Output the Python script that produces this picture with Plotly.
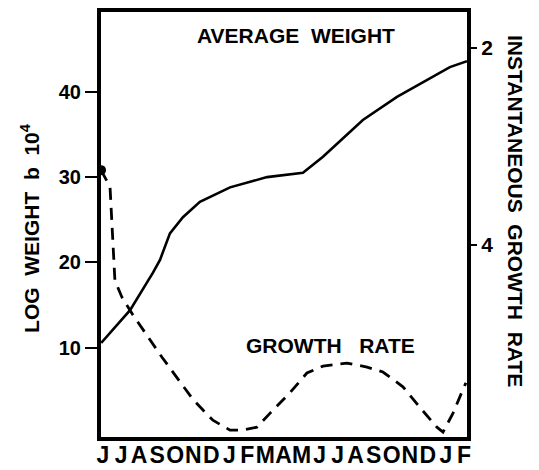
import plotly.graph_objects as go

# ---- data ----
month_labels = ["J", "J", "A", "S", "O", "N", "D", "J", "F", "M", "A",
                "M", "J", "J", "A", "S", "O", "N", "D", "J", "F"]
month_pos = list(range(len(month_labels)))

weight_month = [-0.1, 1.5, 2.77, 3.16, 3.71, 4.43, 5.37, 7.04, 9.09, 11.08,
                12.19, 14.4, 16.29, 18.12, 19.22, 20.17]
weight_value = [10.55, 14.4, 18.8, 20.3, 23.4, 25.3, 27.1, 28.8, 30.0, 30.5,
                32.4, 36.7, 39.4, 41.6, 42.9, 43.6]

growth_month = [-0.11, 0.39, 0.66, 1.05, 1.66, 2.33, 3.27, 4.27, 4.99, 6.09,
                7.04, 7.76, 8.53, 9.25, 10.36, 11.3, 12.19, 13.52, 14.63,
                15.51, 16.62, 17.56, 18.5, 18.84, 19.39, 19.78, 19.94, 20.11]
growth_value = [-3.24, -3.41, -4.36, -4.53, -4.71, -4.89, -5.14, -5.39, -5.57,
                -5.78, -5.88, -5.88, -5.85, -5.71, -5.50, -5.30, -5.23, -5.20,
                -5.24, -5.29, -5.44, -5.65, -5.85, -5.90, -5.71, -5.54, -5.47,
                -5.40]

left_ticks = [10, 20, 30, 40]
right_ticks = [-2, -4]
right_ticktext = ["2", "4"]

FONT = "Liberation Sans, Arial, Helvetica, sans-serif"

fig = go.Figure()
fig.add_trace(go.Scatter(x=weight_month, y=weight_value, mode="lines",
                         line=dict(color="black", width=2.6),
                         showlegend=False, hoverinfo="skip"))
fig.add_trace(go.Scatter(x=growth_month, y=growth_value, mode="lines",
                         line=dict(color="black", width=2.8, dash="12px,8px"),
                         yaxis="y2", showlegend=False, hoverinfo="skip"))
fig.add_trace(go.Scatter(x=growth_month[:1], y=growth_value[:1], mode="markers",
                         marker=dict(color="black", size=10),
                         yaxis="y2", showlegend=False, hoverinfo="skip"))

fig.update_layout(
    width=539, height=470,
    margin=dict(l=101, r=72, t=12, b=33, autoexpand=False),
    paper_bgcolor="white", plot_bgcolor="white",
    font=dict(family=FONT, color="black"),
    xaxis=dict(range=[-0.11, 20.17], tickvals=month_pos, ticktext=month_labels,
               ticks="", tickangle=0, ticklabelstandoff=-6,
               showgrid=False, zeroline=False,
               showline=True, linecolor="black", linewidth=4, mirror=True,
               tickfont=dict(size=23, weight="bold", family=FONT)),
    yaxis=dict(range=[-0.47, 49.36], tickvals=left_ticks,
               ticks="outside", ticklen=12, tickwidth=2, tickcolor="black",
               showgrid=False, zeroline=False,
               showline=True, linecolor="black", linewidth=4, mirror=True,
               tickfont=dict(size=20, weight="bold", family=FONT)),
    yaxis2=dict(range=[-5.95, -1.634], overlaying="y", side="right",
                tickvals=right_ticks, ticktext=right_ticktext,
                ticks="outside", ticklen=9, tickwidth=2, tickcolor="black",
                showgrid=False, zeroline=False, showline=False,
                tickfont=dict(size=21, weight="bold", family=FONT)),
    annotations=[
        dict(text="AVERAGE  WEIGHT", x=0.533, y=0.944, xref="paper", yref="paper",
             xanchor="center", yanchor="middle",
             showarrow=False, font=dict(size=21, weight="bold", family=FONT)),
        dict(text="GROWTH   RATE", x=0.626, y=0.216, xref="paper", yref="paper",
             xanchor="center", yanchor="middle",
             showarrow=False, font=dict(size=21, weight="bold", family=FONT)),
        dict(text="LOG  WEIGHT  b  10<sup>4</sup>", x=-0.194, y=0.492,
             xref="paper", yref="paper", textangle=-90, showarrow=False,
             xanchor="center", yanchor="middle",
             font=dict(size=21, weight="bold", family=FONT)),
        dict(text="INSTANTANEOUS  GROWTH  RATE", x=1.131, y=0.532,
             xref="paper", yref="paper", textangle=90, showarrow=False,
             xanchor="center", yanchor="middle",
             font=dict(size=21, weight="bold", family=FONT)),
    ],
)

fig.write_html("out.html",
               config={"displayModeBar": False},
               post_script="document.body.style.margin='0';"
                           "document.body.style.overflow='hidden';")
